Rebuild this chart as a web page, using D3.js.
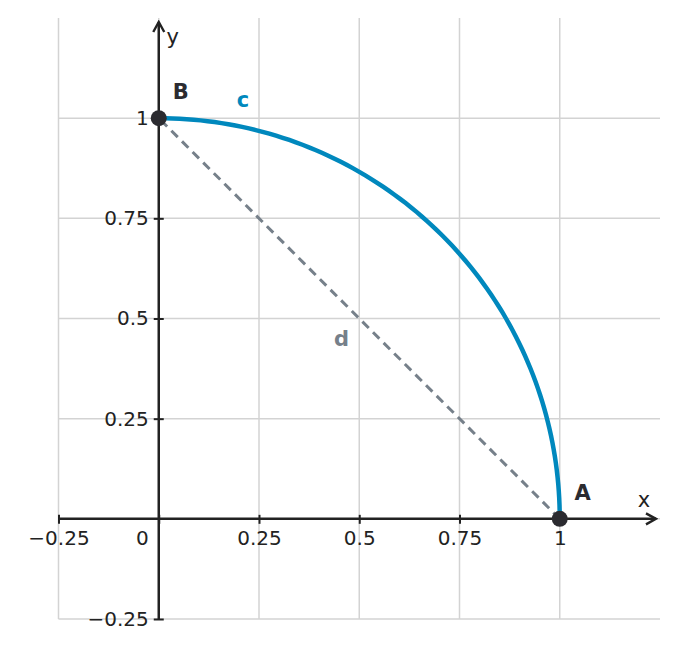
<!DOCTYPE html>
<html>
<head>
<meta charset="utf-8">
<script src="https://cdn.jsdelivr.net/npm/d3@7"></script>
<style>
    body { margin: 0; background: #fff; }
    text { font-family: "DejaVu Sans", sans-serif; }
</style>
</head>
<body>
<div id="chart"></div>
<script>
// data
const xTicks = [-0.25, 0, 0.25, 0.5, 0.75, 1];
const yTicks = [-0.25, 0.25, 0.5, 0.75, 1];
const xGrid = [-0.25, 0, 0.25, 0.5, 0.75, 1];
const yGrid = [-0.25, 0, 0.25, 0.5, 0.75, 1];
const arcAngles = d3.range(0, 91, 1);   // degrees along the quarter circle
const points = [
    { name: "A", x: 1, y: 0 },
    { name: "B", x: 0, y: 1 }
];
const chord = [[1, 0], [0, 1]];

const svgWidth = 677,
    svgHeight = 648;

let svg = d3.select("#chart").append("svg")
    .attr("width", svgWidth)
    .attr("height", svgHeight);

// scales
let xScale = d3.scaleLinear().domain([-0.25, 1.25]).range([58.5, 660]),
    yScale = d3.scaleLinear().domain([-0.25, 1.25]).range([619, 18]);

const fmt = (d) => d === 0 ? "0" : d3.format("")(d).replace("-", "\u2212");

// grid
svg.append("g").selectAll("line")
    .data(xGrid)
    .join("line")
    .attr("x1", (d) => xScale(d)).attr("x2", (d) => xScale(d))
    .attr("y1", yScale(1.25)).attr("y2", yScale(-0.25))
    .attr("stroke", "#d3d3d3").attr("stroke-width", 1.5);
svg.append("g").selectAll("line")
    .data(yGrid)
    .join("line")
    .attr("x1", xScale(-0.25)).attr("x2", xScale(1.25))
    .attr("y1", (d) => yScale(d)).attr("y2", (d) => yScale(d))
    .attr("stroke", "#d3d3d3").attr("stroke-width", 1.5);

// arrow marker
svg.append("defs").append("marker")
    .attr("id", "arrow")
    .attr("viewBox", "0 0 14 14")
    .attr("refX", 12).attr("refY", 7)
    .attr("markerWidth", 14).attr("markerHeight", 14)
    .attr("markerUnits", "userSpaceOnUse")
    .attr("orient", "auto")
    .append("path")
    .attr("d", "M2,1.5 L12,7 L2,12.5")
    .attr("fill", "none").attr("stroke", "#222").attr("stroke-width", 2.4);

// axes
let xAxis = svg.append("g")
    .attr("transform", `translate(0, ${yScale(0)})`)
    .call(d3.axisBottom(xScale).tickValues(xTicks).tickSize(5).tickFormat(fmt));
let yAxis = svg.append("g")
    .attr("transform", `translate(${xScale(0)}, 0)`)
    .call(d3.axisLeft(yScale).tickValues(yTicks).tickSize(5).tickFormat(fmt));

[xAxis, yAxis].forEach((ax) => {
    ax.select(".domain").remove();
    ax.selectAll(".tick line").attr("stroke", "#222").attr("stroke-width", 2);
    ax.selectAll(".tick text")
        .attr("fill", "#222")
        .attr("font-size", 20)
        .attr("font-family", "DejaVu Sans, sans-serif");
});
xAxis.selectAll(".tick line").attr("y1", -4).attr("y2", 5);
xAxis.selectAll(".tick text").attr("y", 12)
    .attr("dx", (d) => d === 0 ? "-17px" : 0);
yAxis.selectAll(".tick line").attr("x1", 5).attr("x2", -5);
yAxis.selectAll(".tick text").attr("x", -10);

svg.append("line")
    .attr("x1", xScale(-0.25)).attr("x2", xScale(1.24))
    .attr("y1", yScale(0)).attr("y2", yScale(0))
    .attr("stroke", "#222").attr("stroke-width", 2.5)
    .attr("marker-end", "url(#arrow)");
svg.append("line")
    .attr("x1", xScale(0)).attr("x2", xScale(0))
    .attr("y1", yScale(-0.25)).attr("y2", yScale(1.24))
    .attr("stroke", "#222").attr("stroke-width", 2.5)
    .attr("marker-end", "url(#arrow)");

svg.append("text").attr("x", xScale(1.21)).attr("y", yScale(0) - 12)
    .attr("text-anchor", "middle").attr("font-size", 21).attr("fill", "#222").text("x");
svg.append("text").attr("x", xScale(0) + 14).attr("y", yScale(1.185))
    .attr("text-anchor", "middle").attr("font-size", 21).attr("fill", "#222").text("y");

// chord d
let line = d3.line().x((d) => xScale(d[0])).y((d) => yScale(d[1]));
svg.append("path")
    .datum(chord)
    .attr("d", line)
    .attr("fill", "none")
    .attr("stroke", "#76808a")
    .attr("stroke-width", 3)
    .attr("stroke-dasharray", "9,6");

// arc c
svg.append("path")
    .datum(arcAngles.map((a) => [Math.cos(a * Math.PI / 180), Math.sin(a * Math.PI / 180)]))
    .attr("d", line)
    .attr("fill", "none")
    .attr("stroke", "#0088bd")
    .attr("stroke-width", 4.5);

// points
svg.selectAll("circle")
    .data(points)
    .join("circle")
    .attr("cx", (d) => xScale(d.x))
    .attr("cy", (d) => yScale(d.y))
    .attr("r", 8)
    .attr("fill", "#2b2b30");

// labels
svg.append("text").attr("x", xScale(1) + 23).attr("y", yScale(0) - 19)
    .attr("text-anchor", "middle").attr("font-size", 21).attr("font-weight", "bold")
    .attr("fill", "#2b2b30").text("A");
svg.append("text").attr("x", xScale(0) + 22).attr("y", yScale(1) - 19)
    .attr("text-anchor", "middle").attr("font-size", 21).attr("font-weight", "bold")
    .attr("fill", "#2b2b30").text("B");
svg.append("text").attr("x", xScale(0.21)).attr("y", yScale(1) - 11)
    .attr("text-anchor", "middle").attr("font-size", 21).attr("font-weight", "bold")
    .attr("fill", "#0088bd").text("c");
svg.append("text").attr("x", xScale(0.456)).attr("y", yScale(0.5) + 27)
    .attr("text-anchor", "middle").attr("font-size", 21).attr("font-weight", "bold")
    .attr("fill", "#76808a").text("d");
</script>
</body>
</html>
